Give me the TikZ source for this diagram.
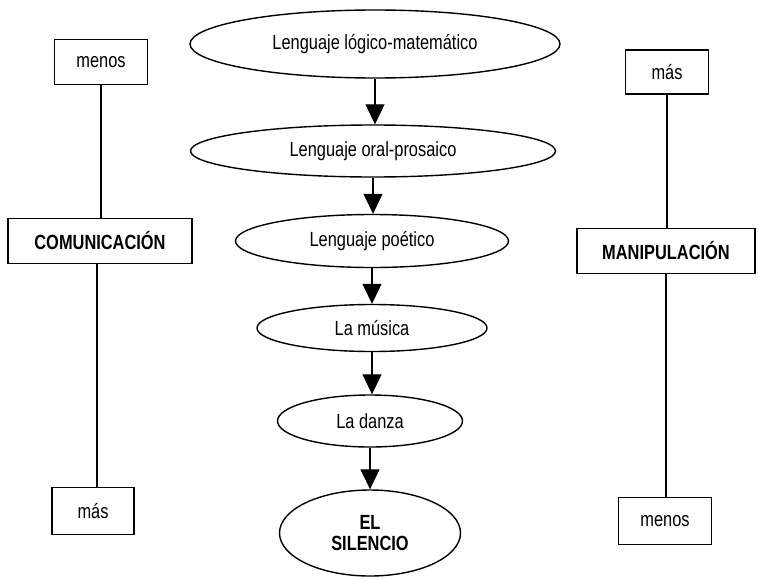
\documentclass[tikz,border=0pt]{standalone}
\usepackage{fontspec}
\setmainfont{Liberation Sans}[FakeStretch=0.8]
\usetikzlibrary{shapes.geometric,arrows.meta}
\tikzset{
  every picture/.style={line width=1.2pt},
  caja/.style={draw,rectangle,inner sep=0pt,font=\fontsize{20.5}{21}\selectfont},
  elipse/.style={draw,ellipse,line width=1.4pt,inner sep=0pt,align=center,font=\fontsize{20.5}{21}\selectfont},
  flecha/.style={-{Triangle[width=19pt,length=20pt]}},
}

\begin{document}
\begin{tikzpicture}[x=1pt,y=-1pt]
\useasboundingbox (0,0) rectangle (759,578);
% columna central
\node[elipse,minimum width=370,minimum height=68] (logico) at (375,44) {Lenguaje lógico-matemático};
\node[elipse,minimum width=365,minimum height=52] (oral) at (373,151) {Lenguaje oral-prosaico};
\node[elipse,minimum width=273,minimum height=53] (poetico) at (372,241) {Lenguaje poético};
\node[elipse,minimum width=230,minimum height=47] (musica) at (372,328) {La música};
\node[elipse,minimum width=185,minimum height=52] (danza) at (370,421) {La danza};
\node[elipse,minimum width=181,minimum height=86,font=\fontsize{20.5}{21}\selectfont\bfseries] (silencio) at (370,533) {EL\\SILENCIO};
\draw[flecha] (logico) -- (logico |- oral.north);
\draw[flecha] (oral) -- (oral |- poetico.north);
\draw[flecha] (poetico) -- (poetico |- musica.north);
\draw[flecha] (musica) -- (musica |- danza.north);
\draw[flecha] (danza) -- (danza |- silencio.north);
% columna izquierda
\node[caja,minimum width=93,minimum height=45] (menosI) at (101,62) {menos};
\node[caja,minimum width=184,minimum height=45,font=\fontsize{20.5}{21}\selectfont\bfseries] (comunicacion) at (100,241) {COMUNICACIÓN};
\node[caja,minimum width=82,minimum height=47] (masI) at (93,511) {más};
\draw (menosI) -- (menosI |- comunicacion.north);
\draw (masI.north -| 97,0) -- (comunicacion.south -| 97,0);
% columna derecha
\node[caja,minimum width=83,minimum height=44] (masD) at (667,72) {más};
\node[caja,minimum width=178,minimum height=45,font=\fontsize{20.5}{21}\selectfont\bfseries] (manipulacion) at (666,251) {MANIPULACIÓN};
\node[caja,minimum width=93,minimum height=47] (menosD) at (665,521) {menos};
\draw (masD) -- (masD |- manipulacion.north);
\draw (manipulacion) -- (manipulacion |- menosD.north);
\end{tikzpicture}
\end{document}
